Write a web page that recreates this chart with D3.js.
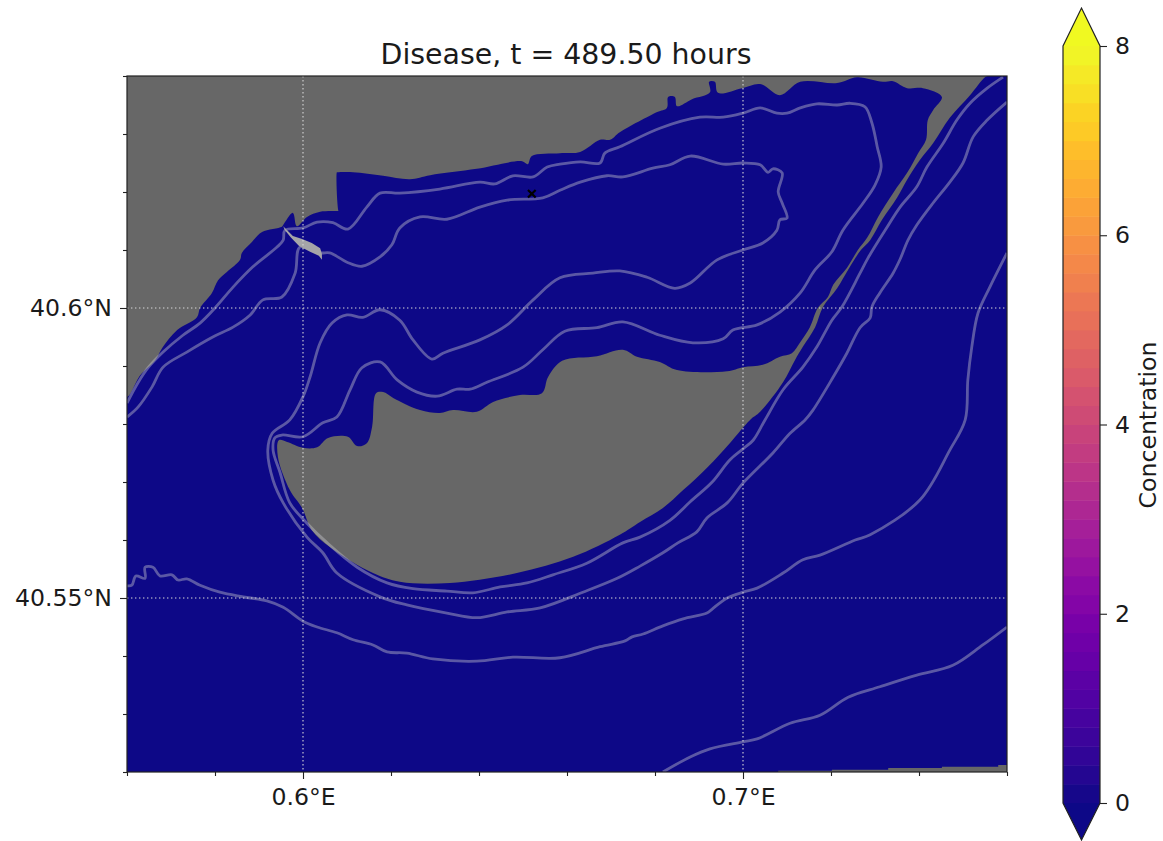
<!DOCTYPE html>
<html>
<head>
<meta charset="utf-8">
<script src="https://cdn.jsdelivr.net/npm/d3@7"></script>
<style>
  html, body { margin: 0; padding: 0; background: #fff; }
  svg { display: block; }
  text { font-family: "DejaVu Sans", sans-serif; fill: #1a1a1a; }
</style>
</head>
<body>
<svg width="1163" height="841"></svg>
<script>
// everything below is [lon, lat]
var coastNorth = [[0.56,40.64],[0.56,40.5847],[0.5630,40.5884],[0.5664,40.5910],[0.5680,40.5931],[0.5714,40.5962],[0.5759,40.5984],[0.5766,40.6000],[0.5793,40.6026],[0.5807,40.6048],[0.5827,40.6062],[0.5857,40.6083],[0.5861,40.6095],[0.5884,40.6114],[0.5907,40.6131],[0.5952,40.6140],[0.5955,40.6143],[0.5977,40.6164],[0.5986,40.6141],[0.6009,40.6157],[0.6039,40.6166],[0.6082,40.6167],[0.6081,40.6167],[0.6077,40.6234],[0.6078,40.6234],[0.6114,40.6234],[0.6182,40.6228],[0.6243,40.6222],[0.6289,40.6229],[0.6395,40.6240],[0.6498,40.6253],[0.6511,40.6248],[0.6520,40.6262],[0.6584,40.6267],[0.6630,40.6269],[0.6675,40.6290],[0.6698,40.6290],[0.6720,40.6303],[0.6805,40.6338],[0.6827,40.6345],[0.6830,40.6364],[0.6845,40.6364],[0.6850,40.6348],[0.6884,40.6360],[0.6925,40.6372],[0.6923,40.6390],[0.6936,40.6390],[0.6943,40.6371],[0.6998,40.6379],[0.7039,40.6386],[0.7084,40.6367],[0.7130,40.6390],[0.7214,40.6388],[0.7259,40.6398],[0.7318,40.6390],[0.7341,40.6391],[0.7373,40.6379],[0.7409,40.6379],[0.7452,40.6364]];
var stripWest = [[0.7432,40.6341],[0.7420,40.6324],[0.7416,40.6290],[0.7398,40.6267],[0.7373,40.6233],[0.7341,40.6198],[0.7307,40.6157],[0.7282,40.6121],[0.7261,40.6100],[0.7236,40.6069],[0.7205,40.6040],[0.7193,40.6019],[0.7170,40.6000],[0.7152,40.5967],[0.7130,40.5941]];
var islandNorth = [[0.7111,40.5922],[0.7084,40.5916],[0.7045,40.5902],[0.7000,40.5898],[0.6964,40.5891],[0.6850,40.5893],[0.6811,40.5907],[0.6759,40.5916],[0.6727,40.5928],[0.6668,40.5917],[0.6589,40.5909],[0.6557,40.5881],[0.6543,40.5853],[0.6493,40.5850],[0.6432,40.5838],[0.6395,40.5821],[0.6341,40.5824],[0.6311,40.5819],[0.6266,40.5824],[0.6205,40.5845],[0.6182,40.5855],[0.6166,40.5853],[0.6157,40.5795],[0.6145,40.5767],[0.6123,40.5762],[0.6102,40.5778],[0.6057,40.5776],[0.6032,40.5760],[0.6000,40.5759],[0.5964,40.5769],[0.5945,40.5772]];
var islandSouth = [[0.5943,40.5743],[0.5970,40.5686],[0.5998,40.5655],[0.6020,40.5617],[0.6061,40.5588],[0.6159,40.5543],[0.6220,40.5528],[0.6334,40.5526],[0.6486,40.5543],[0.6614,40.5571],[0.6720,40.5609],[0.6766,40.5631],[0.6818,40.5655],[0.6864,40.5686],[0.6920,40.5726],[0.6970,40.5767],[0.7016,40.5807],[0.7039,40.5821],[0.7091,40.5872],[0.7118,40.5910]];
var stripEast = [[0.7136,40.5933],[0.7164,40.5967],[0.7182,40.6002],[0.7214,40.6034],[0.7239,40.6066],[0.7268,40.6100],[0.7289,40.6117],[0.7316,40.6152],[0.7350,40.6190],[0.7373,40.6221],[0.7402,40.6255],[0.7432,40.6284],[0.7470,40.6328],[0.7516,40.6367],[0.7550,40.6398],[0.7557,40.64]];
var landSouthEast = [[0.708,40.52],[0.708,40.5202],[0.7202,40.5202],[0.7202,40.5204],[0.733,40.5204],[0.733,40.5207],[0.7452,40.5207],[0.7452,40.5209],[0.758,40.5209],[0.758,40.5212],[0.76,40.5212],[0.76,40.52]];
var spit = [[0.5955,40.6141],[0.5977,40.6124],[0.5998,40.6119],[0.6020,40.6112],[0.6039,40.6103],[0.6043,40.6093],[0.6043,40.6083],[0.6036,40.6090],[0.6016,40.6097],[0.5991,40.6107],[0.5973,40.6121],[0.5959,40.6134]];

var contourA = [[0.7591,40.6398],[0.7555,40.6379],[0.7516,40.6353],[0.7486,40.6324],[0.7455,40.6284],[0.7418,40.6243],[0.7395,40.6209],[0.7357,40.6174],[0.7323,40.6134],[0.7284,40.6086],[0.7266,40.6060],[0.7225,40.6002],[0.7202,40.5979],[0.7168,40.5933],[0.7136,40.5898],[0.7091,40.5859],[0.7050,40.5807],[0.7023,40.5772],[0.7000,40.5757],[0.6970,40.5738],[0.6930,40.5700],[0.6880,40.5666],[0.6834,40.5634],[0.6766,40.5605],[0.6727,40.5595],[0.6645,40.5560],[0.6568,40.5540],[0.6509,40.5526],[0.6448,40.5519],[0.6386,40.5509],[0.6327,40.5512],[0.6250,40.5516],[0.6191,40.5526],[0.6123,40.5553],[0.6055,40.5595],[0.6009,40.5629],[0.5970,40.5664],[0.5948,40.5716],[0.5932,40.5755],[0.5936,40.5776],[0.5952,40.5781],[0.6000,40.5778],[0.6045,40.5802],[0.6077,40.5812],[0.6107,40.5859],[0.6134,40.5897],[0.6175,40.5907],[0.6214,40.5876],[0.6259,40.5855],[0.6305,40.5848],[0.6350,40.5860],[0.6380,40.5860],[0.6418,40.5872],[0.6500,40.5898],[0.6545,40.5928],[0.6595,40.5960],[0.6668,40.5966],[0.6727,40.5976],[0.6811,40.5953],[0.6886,40.5940],[0.6955,40.5947],[0.6977,40.5962],[0.7032,40.5971],[0.7084,40.5993],[0.7130,40.6026],[0.7164,40.6066],[0.7202,40.6097],[0.7227,40.6134],[0.7273,40.6181],[0.7300,40.6212],[0.7314,40.6243],[0.7305,40.6278],[0.7293,40.6319],[0.7277,40.6347],[0.7243,40.6353],[0.7214,40.6350],[0.7168,40.6352],[0.7130,40.6345],[0.7100,40.6336],[0.7077,40.6336],[0.7039,40.6345],[0.7000,40.6336],[0.6955,40.6329],[0.6902,40.6329],[0.6811,40.6310],[0.6720,40.6278],[0.6686,40.6267],[0.6675,40.6250],[0.6630,40.6252],[0.6584,40.6248],[0.6555,40.6243],[0.6523,40.6226],[0.6477,40.6228],[0.6436,40.6214],[0.6402,40.6217],[0.6311,40.6205],[0.6220,40.6198],[0.6175,40.6198],[0.6145,40.6174],[0.6102,40.6136],[0.6068,40.6147],[0.6032,40.6148],[0.6000,40.6138],[0.5959,40.6134],[0.5955,40.6117],[0.5941,40.6105],[0.5886,40.6071],[0.5841,40.6036],[0.5800,40.6000],[0.5766,40.5974],[0.5727,40.5953],[0.5682,40.5924],[0.5648,40.5897],[0.5625,40.5871],[0.5600,40.5836]];
var contourB = [[0.7600,40.6355],[0.7555,40.6324],[0.7523,40.6295],[0.7500,40.6250],[0.7470,40.6217],[0.7432,40.6181],[0.7395,40.6143],[0.7375,40.6117],[0.7357,40.6084],[0.7341,40.6060],[0.7311,40.6026],[0.7293,40.6002],[0.7289,40.5983],[0.7266,40.5966],[0.7236,40.5922],[0.7205,40.5881],[0.7159,40.5824],[0.7141,40.5807],[0.7107,40.5784],[0.7068,40.5750],[0.7000,40.5698],[0.6964,40.5664],[0.6918,40.5638],[0.6895,40.5614],[0.6852,40.5595],[0.6818,40.5578],[0.6766,40.5555],[0.6714,40.5534],[0.6636,40.5510],[0.6539,40.5483],[0.6464,40.5476],[0.6395,40.5466],[0.6327,40.5474],[0.6236,40.5488],[0.6175,40.5502],[0.6077,40.5543],[0.6045,40.5578],[0.6009,40.5605],[0.5955,40.5664],[0.5932,40.5703],[0.5920,40.5755],[0.5930,40.5784],[0.5970,40.5807],[0.6000,40.5847],[0.6016,40.5881],[0.6039,40.5940],[0.6066,40.5974],[0.6100,40.5988],[0.6136,40.5984],[0.6175,40.5997],[0.6220,40.5979],[0.6250,40.5945],[0.6293,40.5912],[0.6318,40.5922],[0.6402,40.5945],[0.6464,40.5971],[0.6523,40.6014],[0.6584,40.6052],[0.6659,40.6060],[0.6720,40.6064],[0.6782,40.6053],[0.6845,40.6034],[0.6880,40.6043],[0.6941,40.6083],[0.7000,40.6100],[0.7045,40.6112],[0.7077,40.6134],[0.7084,40.6152],[0.7100,40.6155],[0.7089,40.6181],[0.7080,40.6200],[0.7089,40.6233],[0.7068,40.6240],[0.7057,40.6234],[0.7039,40.6247],[0.7000,40.6250],[0.6955,40.6248],[0.6880,40.6262],[0.6834,40.6247],[0.6795,40.6241],[0.6727,40.6226],[0.6691,40.6228],[0.6630,40.6217],[0.6584,40.6203],[0.6545,40.6190],[0.6464,40.6186],[0.6402,40.6174],[0.6327,40.6153],[0.6266,40.6157],[0.6220,40.6138],[0.6202,40.6109],[0.6175,40.6088],[0.6134,40.6072],[0.6100,40.6079],[0.6061,40.6095],[0.6039,40.6095],[0.5993,40.6105],[0.5982,40.6060],[0.5952,40.6019],[0.5909,40.6014],[0.5880,40.5988],[0.5841,40.5967],[0.5795,40.5950],[0.5736,40.5924],[0.5682,40.5898],[0.5657,40.5864],[0.5625,40.5829],[0.5600,40.5812]];
var contourC = [[0.7600,40.6095],[0.7561,40.6036],[0.7534,40.5991],[0.7520,40.5933],[0.7511,40.5876],[0.7505,40.5807],[0.7470,40.5755],[0.7402,40.5669],[0.7289,40.5609],[0.7255,40.5600],[0.7175,40.5574],[0.7136,40.5566],[0.7091,40.5543],[0.7032,40.5517],[0.7000,40.5510],[0.6964,40.5500],[0.6930,40.5481],[0.6918,40.5474],[0.6864,40.5464],[0.6818,40.5452],[0.6773,40.5438],[0.6748,40.5433],[0.6732,40.5426],[0.6675,40.5416],[0.6584,40.5397],[0.6477,40.5398],[0.6395,40.5391],[0.6295,40.5395],[0.6236,40.5405],[0.6191,40.5407],[0.6159,40.5419],[0.6114,40.5428],[0.6077,40.5440],[0.6032,40.5450],[0.6000,40.5460],[0.5955,40.5484],[0.5918,40.5495],[0.5864,40.5502],[0.5811,40.5510],[0.5766,40.5522],[0.5736,40.5533],[0.5716,40.5531],[0.5702,40.5540],[0.5675,40.5538],[0.5659,40.5553],[0.5641,40.5553],[0.5641,40.5534],[0.5620,40.5538],[0.5611,40.5522],[0.5600,40.5521]];
var contourD = [[0.7600,40.5450],[0.7545,40.5419],[0.7477,40.5384],[0.7395,40.5367],[0.7311,40.5347],[0.7239,40.5329],[0.7175,40.5298],[0.7107,40.5284],[0.7032,40.5257],[0.7000,40.5252],[0.6925,40.5240],[0.6880,40.5226],[0.6818,40.5200]];
var sourcePoint = [[0.6520,40.6197]];

var lonMajor = [0.6, 0.7];
var lonMinor = [0.56, 0.58, 0.62, 0.64, 0.66, 0.68, 0.72, 0.74, 0.76];
var latMajor = [40.55, 40.6];
var latMinor = [40.52, 40.53, 40.54, 40.56, 40.57, 40.58, 40.59, 40.61, 40.62, 40.63, 40.64];
var barTicks = [0, 2, 4, 6, 8];
var barLevels = d3.range(0, 8, 0.2);

var svg = d3.select("svg");
var left = 127, right = 1007, top_ = 76, bottom = 772;

var x = d3.scaleLinear().domain([0.56, 0.76]).range([left, right]);
var y = d3.scaleLinear().domain([40.52, 40.64]).range([bottom, top_]);
var conc = d3.scaleSequential(d3.interpolatePlasma).domain([0, 8]);

var sharp = d3.line().x(function(d) { return x(d[0]); }).y(function(d) { return y(d[1]); });
var smooth = d3.line().x(function(d) { return x(d[0]); }).y(function(d) { return y(d[1]); })
  .curve(d3.curveCatmullRom.alpha(0.5));

svg.append("defs").append("clipPath").attr("id", "plot")
  .append("rect").attr("x", left).attr("y", top_).attr("width", right - left).attr("height", bottom - top_);

var g = svg.append("g").attr("clip-path", "url(#plot)");

// water is the zero level of the concentration field
g.append("rect").attr("x", left).attr("y", top_).attr("width", right - left).attr("height", bottom - top_)
  .attr("fill", conc(0));

var land = coastNorth.concat(stripWest, islandNorth, islandSouth, stripEast);
g.append("path").attr("d", smooth(land) + "Z").attr("fill", "#676767");
g.append("path").attr("d", sharp(landSouthEast) + "Z").attr("fill", "#676767");

g.selectAll(".contour")
  .data([contourA, contourB, contourC, contourD])
  .enter().append("path")
  .attr("class", "contour")
  .attr("d", smooth)
  .attr("fill", "none")
  .attr("stroke", "#c8c8d0")
  .attr("stroke-opacity", 0.42)
  .attr("stroke-width", 2.8)
  .attr("stroke-linejoin", "round");

g.append("path").attr("d", sharp(spit) + "Z").attr("fill", "#a5a5a8");

// gridlines
g.selectAll(".gx").data(lonMajor).enter().append("line")
  .attr("x1", function(d) { return x(d); }).attr("x2", function(d) { return x(d); })
  .attr("y1", top_).attr("y2", bottom);
g.selectAll(".gy").data(latMajor).enter().append("line")
  .attr("x1", left).attr("x2", right)
  .attr("y1", function(d) { return y(d); }).attr("y2", function(d) { return y(d); });
g.selectAll("line")
  .attr("stroke", "#d8d8d8").attr("stroke-width", 1.1).attr("stroke-dasharray", "1.4 2.6");

g.selectAll(".source").data(sourcePoint).enter().append("path")
  .attr("transform", function(d) { return "translate(" + x(d[0]) + "," + y(d[1]) + ")"; })
  .attr("d", d3.symbol(d3.symbolTimes, 40))
  .attr("fill", "none").attr("stroke", "#000").attr("stroke-width", 2.2);

// frame and ticks
svg.append("rect").attr("x", left).attr("y", top_).attr("width", right - left).attr("height", bottom - top_)
  .attr("fill", "none").attr("stroke", "#222").attr("stroke-width", 1.2);

function axisTicks(a) { a.select(".domain").remove(); a.selectAll("line").attr("stroke", "#222").attr("stroke-width", 1.1); }

svg.append("g").attr("transform", "translate(0," + bottom + ")")
  .call(d3.axisBottom(x).tickValues(lonMinor).tickSize(4).tickFormat(""))
  .call(axisTicks);
svg.append("g").attr("transform", "translate(0," + bottom + ")")
  .call(d3.axisBottom(x).tickValues(lonMajor).tickSize(7).tickPadding(9)
    .tickFormat(function(d) { return d3.format(".1f")(d) + "°E"; }))
  .call(axisTicks)
  .selectAll("text").style("font-size", "23.6px").style("font-family", "DejaVu Sans");
svg.append("g").attr("transform", "translate(" + left + ",0)")
  .call(d3.axisLeft(y).tickValues(latMinor).tickSize(4).tickFormat(""))
  .call(axisTicks);
svg.append("g").attr("transform", "translate(" + left + ",0)")
  .call(d3.axisLeft(y).tickValues(latMajor).tickSize(7).tickPadding(8)
    .tickFormat(function(d) { return d3.format(".2~f")(d) + "°N"; }))
  .call(axisTicks)
  .selectAll("text").style("font-size", "23.6px").style("font-family", "DejaVu Sans");

svg.append("text").attr("x", 566).attr("y", 64).attr("text-anchor", "middle")
  .style("font-size", "28.4px").text("Disease, t = 489.50 hours");

// colour bar
var barX = 1063, barW = 37;
var yBar = d3.scaleLinear().domain([0, 8]).range([803, 46]);
var bar = svg.append("g");
bar.selectAll("rect").data(barLevels).enter().append("rect")
  .attr("x", barX).attr("width", barW)
  .attr("y", function(d) { return yBar(d + 0.2); })
  .attr("height", function(d) { return yBar(d) - yBar(d + 0.2) + 0.5; })
  .attr("fill", function(d) { return conc(d + 0.1); });

var tipTop = [[barX, yBar(8)], [barX + barW / 2, 8], [barX + barW, yBar(8)]];
var tipBottom = [[barX, yBar(0)], [barX + barW / 2, 840], [barX + barW, yBar(0)]];
bar.append("path").attr("d", d3.line()(tipTop) + "Z").attr("fill", conc(8));
bar.append("path").attr("d", d3.line()(tipBottom) + "Z").attr("fill", conc(0));
bar.append("path")
  .attr("d", d3.line()(tipTop.concat(tipBottom.slice().reverse())) + "Z")
  .attr("fill", "none").attr("stroke", "#222").attr("stroke-width", 1.2);

svg.append("g").attr("transform", "translate(" + (barX + barW) + ",0)")
  .call(d3.axisRight(yBar).tickValues(barTicks).tickSize(7).tickPadding(8).tickFormat(d3.format("d")))
  .call(axisTicks)
  .selectAll("text").style("font-size", "23.6px").style("font-family", "DejaVu Sans");

svg.append("text").attr("transform", "translate(1156,425) rotate(-90)")
  .attr("text-anchor", "middle").style("font-size", "23.6px").text("Concentration");
</script>
</body>
</html>
